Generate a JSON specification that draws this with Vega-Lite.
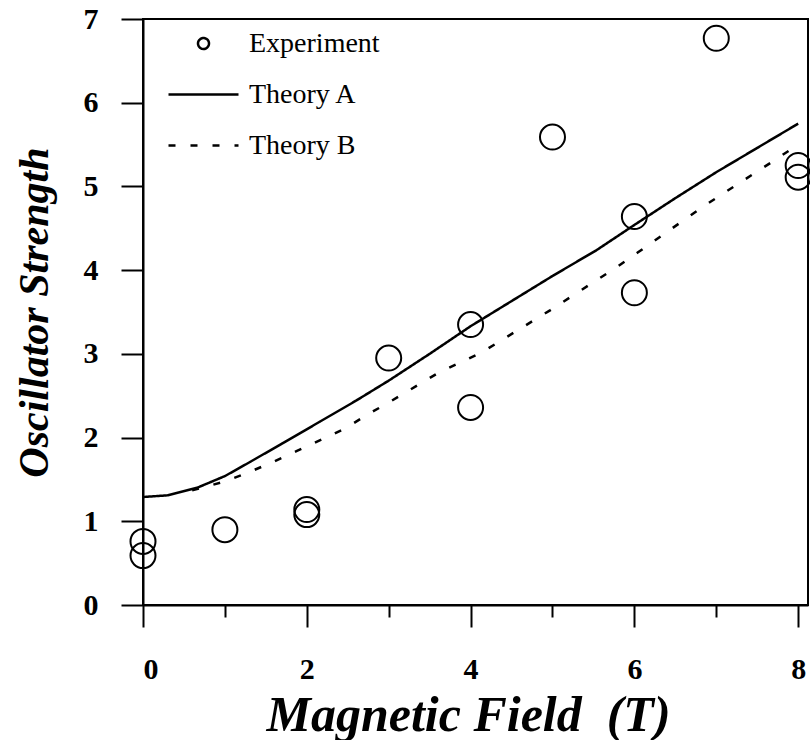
{
  "$schema": "https://vega.github.io/schema/vega-lite/v6.json",
  "width": 665,
  "height": 586,
  "autosize": {"type": "none"},
  "padding": {"left": 143, "top": 19, "right": 2, "bottom": 135},
  "background": "white",
  "config": {
    "view": {"stroke": "black", "strokeWidth": 2},
    "axis": {
      "grid": false,
      "domainColor": "black",
      "domainWidth": 2,
      "tickColor": "black",
      "tickWidth": 2,
      "labelFont": "Liberation Serif",
      "labelFontWeight": "bold",
      "labelFontSize": 30,
      "labelColor": "black",
      "titleFont": "Liberation Serif",
      "titleFontWeight": "bold",
      "titleFontStyle": "italic",
      "titleColor": "black"
    },
    "legend": {
      "labelFont": "Liberation Serif",
      "labelFontSize": 28,
      "labelColor": "black",
      "symbolStrokeColor": "black",
      "symbolStrokeWidth": 2.5
    }
  },
  "datasets": {
    "experiment": [
      {"field": 0, "strength": 0.76, "series": "Experiment"},
      {"field": 0, "strength": 0.59, "series": "Experiment"},
      {"field": 1, "strength": 0.9, "series": "Experiment"},
      {"field": 2, "strength": 1.08, "series": "Experiment"},
      {"field": 2, "strength": 1.14, "series": "Experiment"},
      {"field": 3, "strength": 2.95, "series": "Experiment"},
      {"field": 4, "strength": 3.35, "series": "Experiment"},
      {"field": 4, "strength": 2.36, "series": "Experiment"},
      {"field": 5, "strength": 5.59, "series": "Experiment"},
      {"field": 6, "strength": 4.64, "series": "Experiment"},
      {"field": 6, "strength": 3.73, "series": "Experiment"},
      {"field": 7, "strength": 6.77, "series": "Experiment"},
      {"field": 8, "strength": 5.25, "series": "Experiment"},
      {"field": 8, "strength": 5.11, "series": "Experiment"}
    ],
    "theory": [
      {"field": 0, "strength": 1.29, "series": "Theory A"},
      {"field": 0.3, "strength": 1.31, "series": "Theory A"},
      {"field": 0.66, "strength": 1.4, "series": "Theory A"},
      {"field": 1, "strength": 1.54, "series": "Theory A"},
      {"field": 1.31, "strength": 1.71, "series": "Theory A"},
      {"field": 1.7, "strength": 1.93, "series": "Theory A"},
      {"field": 2.16, "strength": 2.19, "series": "Theory A"},
      {"field": 2.6, "strength": 2.44, "series": "Theory A"},
      {"field": 3, "strength": 2.68, "series": "Theory A"},
      {"field": 3.5, "strength": 3.0, "series": "Theory A"},
      {"field": 4, "strength": 3.33, "series": "Theory A"},
      {"field": 4.5, "strength": 3.63, "series": "Theory A"},
      {"field": 5, "strength": 3.93, "series": "Theory A"},
      {"field": 5.54, "strength": 4.24, "series": "Theory A"},
      {"field": 6, "strength": 4.54, "series": "Theory A"},
      {"field": 6.5, "strength": 4.86, "series": "Theory A"},
      {"field": 7, "strength": 5.17, "series": "Theory A"},
      {"field": 7.5, "strength": 5.46, "series": "Theory A"},
      {"field": 8, "strength": 5.75, "series": "Theory A"},
      {"field": 0.6, "strength": 1.37, "series": "Theory B"},
      {"field": 0.98, "strength": 1.47, "series": "Theory B"},
      {"field": 1.28, "strength": 1.58, "series": "Theory B"},
      {"field": 1.59, "strength": 1.71, "series": "Theory B"},
      {"field": 1.88, "strength": 1.84, "series": "Theory B"},
      {"field": 2.19, "strength": 1.98, "series": "Theory B"},
      {"field": 2.47, "strength": 2.11, "series": "Theory B"},
      {"field": 2.75, "strength": 2.28, "series": "Theory B"},
      {"field": 3.02, "strength": 2.43, "series": "Theory B"},
      {"field": 3.6, "strength": 2.77, "series": "Theory B"},
      {"field": 4.14, "strength": 3.02, "series": "Theory B"},
      {"field": 4.97, "strength": 3.52, "series": "Theory B"},
      {"field": 5.79, "strength": 4.04, "series": "Theory B"},
      {"field": 6.04, "strength": 4.21, "series": "Theory B"},
      {"field": 6.84, "strength": 4.76, "series": "Theory B"},
      {"field": 7.66, "strength": 5.28, "series": "Theory B"},
      {"field": 8, "strength": 5.5, "series": "Theory B"}
    ]
  },
  "encoding": {
    "x": {
      "field": "field",
      "type": "quantitative",
      "scale": {"domain": [0, 8.12], "nice": false, "zero": false},
      "axis": {
        "values": [0, 1, 2, 3, 4, 5, 6, 7, 8],
        "labelExpr": "datum.value % 2 === 0 ? datum.label : ''",
        "tickSize": {"condition": {"test": "datum.value % 2 === 0", "value": 22}, "value": 12},
        "labelPadding": 27,
        "title": "Magnetic Field\u00a0\u00a0(T)",
        "titleFontSize": 50,
        "titlePadding": 6,
        "titleX": 325
      }
    },
    "y": {
      "field": "strength",
      "type": "quantitative",
      "scale": {"domain": [0, 7], "nice": false},
      "axis": {
        "values": [0, 1, 2, 3, 4, 5, 6, 7],
        "tickSize": 22,
        "labelPadding": 23,
        "title": "Oscillator Strength",
        "titleFontSize": 42,
        "titlePadding": 27
      }
    }
  },
  "layer": [
    {
      "data": {"name": "theory"},
      "mark": {"type": "line", "color": "black", "strokeWidth": 2.5},
      "encoding": {
        "strokeDash": {
          "field": "series",
          "type": "nominal",
          "scale": {"domain": ["Experiment", "Theory A", "Theory B"], "range": [[1, 0], [1, 0], [7, 15]]},
          "legend": {
            "title": null,
            "orient": "none",
            "legendX": 24,
            "legendY": -12,
            "symbolSize": 4900,
            "labelOffset": 9,
            "rowPadding": -2
          }
        }
      }
    },
    {
      "data": {"name": "experiment"},
      "mark": {"type": "point", "filled": false, "color": "black", "strokeWidth": 2, "size": 25350, "opacity": 1},
      "encoding": {
        "shape": {
          "field": "series",
          "type": "nominal",
          "scale": {
            "domain": ["Experiment", "Theory A", "Theory B"],
            "range": ["M -0.157,0 A 0.157,0.157 0 1,1 0.157,0 A 0.157,0.157 0 1,1 -0.157,0 Z", "stroke", "stroke"]
          },
          "legend": {
            "title": null,
            "orient": "none",
            "legendX": 24,
            "legendY": -12,
            "symbolSize": 4900,
            "labelOffset": 9,
            "rowPadding": -2
          }
        }
      }
    }
  ]
}
